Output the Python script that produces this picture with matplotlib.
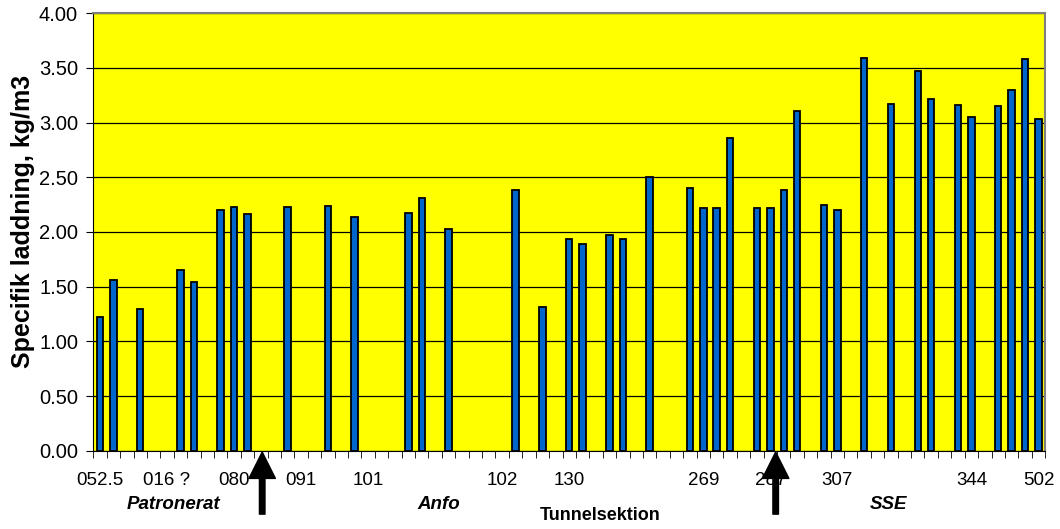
import matplotlib.pyplot as plt
import numpy as np

# Specific charge per tunnel section (NaN = no value for that section)
nan = np.nan
charge = [1.22, 1.56, nan, 1.30, nan, nan, 1.65, 1.54, nan, 2.20,
          2.23, 2.16, nan, nan, 2.23, nan, nan, 2.24, nan, 2.14,
          nan, nan, nan, 2.17, 2.31, nan, 2.03, nan, nan, nan,
          nan, 2.38, nan, 1.31, nan, 1.94, 1.89, nan, 1.97, 1.94,
          nan, 2.50, nan, nan, 2.40, 2.22, 2.22, 2.86, nan, 2.22,
          2.22, 2.38, 3.11, nan, 2.25, 2.20, nan, 3.59, nan, 3.17,
          nan, 3.47, 3.22, nan, 3.16, 3.05, nan, 3.15, 3.30, 3.58,
          3.03]

# labels shown on every 5th section
shown_labels = ["052.5", "016 ?", "080", "091", "101", "", "102", "130",
                "", "269", "287", "307", "", "344", "502"]

groups = ["Patronerat", "Anfo", "SSE"]
group_x = [5.5, 25.3, 58.8]
arrow_x = [12.1, 50.4]

plt.rcParams['font.family'] = ['Liberation Sans', 'DejaVu Sans']

n = len(charge)
x = np.arange(n)

fig = plt.figure(figsize=(10.6, 5.29), dpi=100)
ax = fig.add_axes([0.088, 0.148, 0.898, 0.827])
ax.set_facecolor('#FFFF00')

ax.bar(x, charge, width=0.48, color='#0066CC', edgecolor='black', linewidth=1.3, zorder=3)

ax.set_xlim(-0.5, n - 0.5)
ax.set_ylim(0, 4)
ax.set_yticks(np.arange(0, 4.01, 0.5))
ax.set_yticklabels(['%.2f' % v for v in np.arange(0, 4.01, 0.5)], fontsize=14.5)
ax.yaxis.grid(True, color='black', linewidth=0.9, zorder=1)

ax.set_xticks(np.arange(0, n, 5))
ax.set_xticklabels(shown_labels, fontsize=13.5)
ax.tick_params(axis='x', length=0, pad=15)
ax.set_xticks(np.arange(-0.5, n, 1), minor=True)
ax.tick_params(axis='x', which='minor', length=5, color='black')
ax.tick_params(axis='y', length=5, direction='out', color='black', pad=6)

ax.spines['top'].set_color('#808080')
ax.spines['right'].set_color('#808080')
ax.spines['top'].set_linewidth(1.5)
ax.spines['right'].set_linewidth(1.5)

ax.set_ylabel('Specifik laddning, kg/m3', fontsize=18, fontweight='bold')
ax.yaxis.set_label_coords(-0.061, 0.523)
ax.text(0.532, -0.149, 'Tunnelsektion', transform=ax.transAxes, fontsize=13,
        fontweight='bold', ha='center', va='center')

for name, gx in zip(groups, group_x):
    ax.text(gx, -0.123, name, transform=ax.get_xaxis_transform(), fontsize=13.5,
            fontweight='bold', style='italic', ha='center', va='center')

for ax_x in arrow_x:
    ax.annotate('', xy=(ax_x, -0.003), xycoords=ax.get_xaxis_transform(),
                xytext=(ax_x, -0.145), textcoords=ax.get_xaxis_transform(),
                arrowprops=dict(facecolor='black', edgecolor='black', width=4,
                                headwidth=19, headlength=19, shrink=0),
                annotation_clip=False)

fig.savefig('out.png', dpi=100)
